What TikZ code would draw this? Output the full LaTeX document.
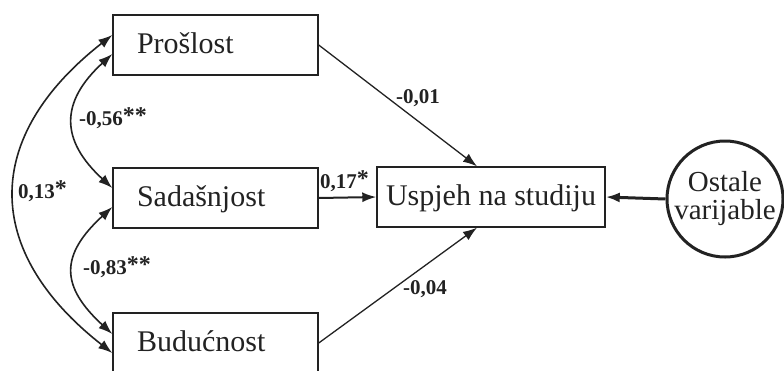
\documentclass[tikz,border=0pt]{standalone}
\usepackage{fontspec}
\setmainfont{Liberation Serif}
\usetikzlibrary{arrows.meta,calc}
\definecolor{ink}{HTML}{222222}
\newcommand{\sigst}[1]{\raisebox{2pt}{\fontsize{24}{24}\selectfont #1}}
\begin{document}
\begin{tikzpicture}[x=1pt,y=-1pt,
  varbox/.style={draw=ink, line width=1.4pt, rectangle, minimum height=60pt,
    text width=157pt, inner xsep=24pt, inner ysep=0pt, align=left,
    text height=20pt, text depth=4pt, font=\fontsize{30}{27}\selectfont, text=ink},
  outbox/.style={draw=ink, line width=1.4pt, rectangle, minimum height=60pt,
    minimum width=228pt, inner sep=0pt, text height=20pt, text depth=4pt,
    font=\fontsize{30}{27}\selectfont, text=ink},
  latent/.style={draw=ink, line width=3pt, circle, minimum size=116pt, inner sep=0pt,
    align=center, font=\fontsize{29}{28}\selectfont, text=ink},
  coef/.style={font=\bfseries\fontsize{21}{23}\selectfont, text=ink, inner sep=0pt, anchor=west},
  tip/.style={-{Latex[length=14pt,width=10pt]}},
  dtip/.style={{Latex[length=14pt,width=10pt]}-{Latex[length=14pt,width=10pt]}},
]
\useasboundingbox (0,0) rectangle (784,370);
\clip (0,0) rectangle (784,370);
\node[varbox] (pr) at (215.5,45) {Prošlost};
\node[varbox] (sad) at (215.5,198) {Sadašnjost};
\node[varbox] (bud) at (215.5,343) {Budućnost};
\node[outbox] (us) at (491,197) {Uspjeh na studiju};
\node[latent] (os) at (725,199) {Ostale\\varijable};

\draw[tip, ink, line width=1.3pt] (pr.east) -- ([xshift=-14pt]us.north);
\draw[tip, ink, line width=1.3pt] (bud.east) -- ([xshift=-14pt]us.south);
\draw[tip, ink, line width=2pt] (sad.east) -- (us.west);
\draw[tip, ink, line width=3pt] (os.west) -- (us.east);

\draw[dtip, ink, line width=1.6pt] ([yshift=10pt]pr.west) .. controls (-18,137) and (-18,251) .. ([yshift=-10pt]bud.west);
\draw[dtip, ink, line width=1.6pt] ([yshift=-9pt]pr.west) .. controls (60,102) and (60,140) .. ([yshift=10pt]sad.west);
\draw[dtip, ink, line width=1.6pt] ([yshift=-9pt]sad.west) .. controls (60,255) and (60,286) .. ([yshift=9pt]bud.west);

\node[coef] (c1) at (396,98) {-0,01};
\node[coef] (c2) at (403,289) {-0,04};
\node[coef] (c3) at (320,181) {0,17\sigst{*}};
\node[coef] (c4) at (79,118) {-0,56\sigst{**}};
\node[coef] (c5) at (18,191) {0,13\sigst{*}};
\node[coef] (c6) at (83,267) {-0,83\sigst{**}};
\end{tikzpicture}
\end{document}
